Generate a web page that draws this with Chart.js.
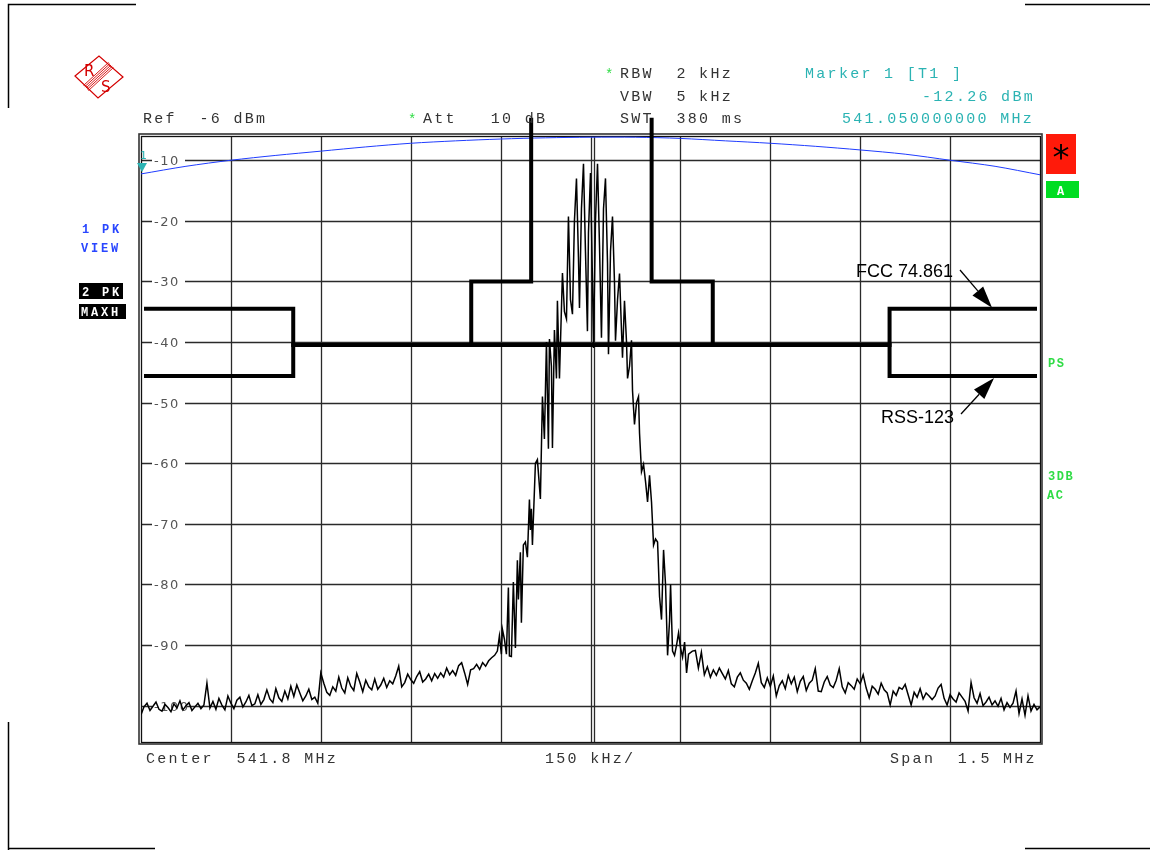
<!DOCTYPE html>
<html>
<head>
<meta charset="utf-8">
<title>Spectrum - FCC 74.861 / RSS-123 mask</title>
<script src="https://cdn.jsdelivr.net/npm/chart.js@4.4.1/dist/chart.umd.min.js"></script>
<style>
  html, body { margin: 0; padding: 0; background: #fff; }
  #wrap { width: 1150px; height: 850px; position: relative; }
</style>
</head>
<body>
<div id="wrap"><canvas id="spectrum"></canvas></div>
<script>
// frequency axis (MHz) and level axis (dBm)
const freqMin = 541.05;
const freqMax = 542.55;
const refLevel = -6;
const bottomLevel = -106;
const xGrid = [541.2, 541.35, 541.5, 541.65, 541.8, 541.95, 542.1, 542.25, 542.4];
const yGrid = [-10, -20, -30, -40, -50, -60, -70, -80, -90, -100];

// trace 2 (PK / MAXH) - noise below the carrier, sweep step 5 kHz
const sweepStep = 0.005;
const noiseLowStart = 541.05;
const noiseLow = [
  -101.5, -100.2, -99.6, -100.8, -100.1, -99.4, -100.6, -100.9, -99.8, -100.3,
  -101.0, -99.7, -100.4, -99.2, -100.7, -100.0, -99.5, -100.8, -100.2, -99.6,
  -100.5, -99.9, -96.3, -100.4, -99.3, -100.6, -98.8, -99.9, -100.7, -98.4,
  -99.6, -100.5, -99.1, -98.6, -100.2, -99.4, -98.3, -100.0, -99.7, -98.2,
  -99.8, -99.0, -97.4, -98.9, -99.5, -97.2, -98.7, -99.3, -97.6, -98.9,
  -96.8, -98.5, -96.6, -97.9, -99.2, -98.4, -97.3, -99.0, -98.6, -99.6,
  -94.6, -96.3, -97.8, -98.3, -96.9, -97.6, -95.3, -97.1, -97.9, -95.4,
  -96.8, -97.5, -94.7, -96.1, -97.7, -95.8, -96.9, -97.4, -95.6, -97.3,
  -96.6, -95.5, -97.0, -95.9, -96.4, -95.1, -93.5, -96.9, -96.2, -94.8,
  -95.7, -96.3, -95.2, -94.4, -96.1, -95.6, -94.8, -95.9, -94.7, -95.5,
  -94.6, -95.3, -93.8, -94.9, -94.2, -95.0, -93.4, -92.9, -94.6, -96.5,
  -94.1, -93.9, -93.2, -94.0, -92.9, -93.5, -92.6, -92.1, -91.7
];

// trace 2 - modulated carrier, read point by point
const sigFreq = [
  541.6446, 541.6480, 541.6513, 541.6530, 541.6563, 541.6597, 541.6630, 541.6647,
  541.6680, 541.6713, 541.6747, 541.6780, 541.6797, 541.6830, 541.6847, 541.6880,
  541.6914, 541.6947, 541.6981, 541.6997, 541.7014, 541.7031, 541.7081, 541.7114,
  541.7164, 541.7198, 541.7231, 541.7265, 541.7298, 541.7315, 541.7348, 541.7365,
  541.7398, 541.7432, 541.7448, 541.7482, 541.7532, 541.7565, 541.7599, 541.7632,
  541.7666, 541.7699, 541.7732, 541.7766, 541.7799, 541.7816, 541.7849, 541.7883,
  541.7916, 541.7949, 541.7966, 541.8000, 541.8033, 541.8050, 541.8083, 541.8117,
  541.8150, 541.8183, 541.8217, 541.8250, 541.8284, 541.8300, 541.8334, 541.8367,
  541.8400, 541.8417, 541.8451, 541.8484, 541.8517, 541.8534, 541.8567, 541.8601,
  541.8618, 541.8651, 541.8684, 541.8701, 541.8734, 541.8768, 541.8801, 541.8818,
  541.8851, 541.8885, 541.8918, 541.8952, 541.8985, 541.9018, 541.9052, 541.9085,
  541.9119, 541.9152, 541.9185, 541.9219, 541.9252, 541.9286, 541.9319, 541.9336,
  541.9369, 541.9402, 541.9436, 541.9469, 541.9503, 541.9536, 541.9570, 541.9603,
  541.9636
];
const sigLevel = [
  -91.0, -88.5, -91.5, -87.4, -89.0, -91.5, -80.5, -91.8,
  -91.9, -79.6, -90.5, -76.0, -82.5, -74.7, -86.3, -73.5,
  -73.0, -75.5, -66.0, -71.0, -67.5, -73.5, -60.0, -59.4,
  -65.9, -49.0, -56.0, -40.0, -57.6, -39.5, -44.0, -57.5,
  -38.0, -46.0, -33.2, -46.0, -28.6, -35.0, -36.2, -19.3,
  -33.0, -35.4, -20.0, -13.0, -26.0, -34.4, -18.0, -10.6,
  -25.0, -38.2, -22.0, -12.1, -30.0, -41.0, -20.0, -10.6,
  -24.0, -39.3, -18.0, -13.0, -27.0, -42.0, -25.0, -19.3,
  -30.0, -39.8, -33.0, -28.7, -38.0, -42.6, -33.2, -40.0,
  -46.0, -44.0, -39.7, -48.0, -53.6, -50.0, -49.0, -55.0,
  -61.4, -60.2, -63.0, -66.4, -62.0, -66.4, -73.5, -72.5,
  -73.0, -82.0, -85.8, -74.3, -80.0, -91.7, -86.0, -80.0,
  -91.0, -91.7, -90.0, -88.0, -90.5, -92.0, -89.5, -94.6,
  -91.5
];

// trace 2 - noise above the carrier
const noiseHighStart = 541.97;
const noiseHigh = [
  -91.0, -90.9, -93.8, -91.2, -94.9, -93.6, -95.3, -94.1, -95.0, -93.8,
  -94.7, -95.6, -94.2, -96.4, -96.9, -95.3, -94.6, -95.8, -96.3, -97.3,
  -95.9, -94.6, -93.0, -96.2, -97.0, -95.4, -96.8, -95.1, -98.4, -96.7,
  -95.9, -97.2, -95.0, -96.4, -95.3, -97.7, -96.0, -95.2, -97.5, -96.3,
  -95.8, -93.9, -97.6, -97.7, -96.1, -95.2, -96.6, -97.0, -95.8, -93.9,
  -96.9, -97.9, -96.2, -96.7, -97.3, -95.6, -96.4, -94.9, -97.1, -98.7,
  -96.8, -97.3, -98.1, -96.3, -97.4, -97.9, -99.9, -97.6, -98.3, -97.0,
  -97.3, -96.5, -98.2, -99.9, -97.8, -98.6, -97.2, -98.9, -97.9, -98.4,
  -99.0, -98.4, -97.1, -96.5, -98.8, -99.9, -98.2, -98.9, -99.4, -97.9,
  -98.6, -99.3, -100.9, -96.2, -98.7, -99.6, -98.0, -100.0, -99.4, -98.6,
  -99.9, -99.2, -100.1, -98.8, -100.7, -99.5, -100.3, -99.6, -97.6, -101.3,
  -98.9, -101.6, -98.4, -100.9, -99.8, -100.7, -100.2
];

// trace 1 (PK / VIEW)
const viewFreq = [
  541.05, 541.125, 541.2, 541.275, 541.35, 541.425, 541.5, 541.575, 541.65, 541.725, 541.8,
  541.875, 541.95, 542.025, 542.1, 542.175, 542.25, 542.325, 542.4, 542.475, 542.55
];
const viewLevel = [
  -12.26, -11.0, -10.0, -9.2, -8.5, -7.8, -7.2, -6.8, -6.5, -6.3, -6.2,
  -6.2, -6.4, -6.8, -7.2, -7.7, -8.3, -9.0, -10.0, -11.0, -12.4
];

// limit lines (null breaks the line above the screen)
const fccFreq  = [541.055, 541.304, 541.304, 541.601, 541.601, 541.701, 541.701, 541.8, 541.902, 541.902, 542.004, 542.004, 542.299, 542.299, 542.545];
const fccLevel = [-34.5, -34.5, -40.5, -40.5, -30, -30, -3, null, -3, -30, -30, -40.5, -40.5, -34.5, -34.5];
const rssFreq  = [541.055, 541.304, 541.304, 542.299, 542.299, 542.545];
const rssLevel = [-45.6, -45.6, -40.5, -40.5, -45.6, -45.6];

const markerFreq = 541.05;
const markerLevel = -12.26;
const arrowFreq = 542.47;

const trace2 = [];
noiseLow.forEach((v, i) => trace2.push({ x: noiseLowStart + i * sweepStep, y: v }));
sigFreq.forEach((f, i) => trace2.push({ x: f, y: sigLevel[i] }));
noiseHigh.forEach((v, i) => trace2.push({ x: noiseHighStart + i * sweepStep, y: v }));

const trace1 = viewFreq.map((f, i) => ({ x: f, y: viewLevel[i] }));
const fccLine = fccFreq.map((f, i) => ({ x: f, y: fccLevel[i] }));
const rssLine = rssFreq.map((f, i) => ({ x: f, y: rssLevel[i] }));

const MONO = '"Liberation Mono", "Courier New", monospace';
const TEAL = "#2bb3b3";
const GREEN = "#2fdc45";

function monoText(ctx, str, x, y, color, size, spacing, weight) {
  ctx.font = (weight || "") + " " + (size || 15) + "px " + MONO;
  ctx.letterSpacing = (spacing === undefined ? 2.3 : spacing) + "px";
  ctx.fillStyle = color;
  ctx.textAlign = "left";
  ctx.textBaseline = "alphabetic";
  ctx.fillText(str, x, y);
  ctx.letterSpacing = "0px";
}

function arrow(ctx, x1, y1, x2, y2) {
  const a = Math.atan2(y2 - y1, x2 - x1);
  const L = 22, W = 7;
  const bx = x2 - L * Math.cos(a), by = y2 - L * Math.sin(a);
  ctx.beginPath();
  ctx.moveTo(x1, y1);
  ctx.lineTo(bx, by);
  ctx.stroke();
  ctx.beginPath();
  ctx.moveTo(x2, y2);
  ctx.lineTo(bx + W * Math.sin(a), by - W * Math.cos(a));
  ctx.lineTo(bx - W * Math.sin(a), by + W * Math.cos(a));
  ctx.closePath();
  ctx.fill();
}

const screenPlugin = {
  id: "screen",
  beforeDatasetsDraw(chart) {
    const { ctx, chartArea: a, scales } = chart;
    const xs = scales.x, ys = scales.y;
    ctx.save();
    // grid
    ctx.strokeStyle = "#2a2a2a";
    ctx.lineWidth = 1.3;
    xGrid.forEach((f) => {
      const px = Math.round(xs.getPixelForValue(f)) + 0.5;
      ctx.beginPath();
      ctx.moveTo(px, a.top);
      ctx.lineTo(px, a.bottom);
      ctx.stroke();
    });
    // center frequency line is doubled
    const cx = Math.round(xs.getPixelForValue(541.8)) + 3.5;
    ctx.beginPath();
    ctx.moveTo(cx, a.top);
    ctx.lineTo(cx, a.bottom);
    ctx.stroke();
    yGrid.forEach((v) => {
      const py = Math.round(ys.getPixelForValue(v)) + 0.5;
      ctx.beginPath();
      ctx.moveTo(a.left, py);
      ctx.lineTo(a.right, py);
      ctx.stroke();
      // level label sits inside the screen on a white patch
      ctx.fillStyle = "#fff";
      ctx.fillRect(a.left + 11, py - 7, 33, 14);
      ctx.font = '13px "DejaVu Sans", sans-serif';
      ctx.letterSpacing = "1.5px";
      ctx.fillStyle = "#555";
      ctx.textBaseline = "middle";
      ctx.textAlign = "left";
      ctx.fillText(String(v), a.left + 13, py + 1);
      ctx.letterSpacing = "0px";
    });
    // double frame
    ctx.strokeStyle = "#111";
    ctx.lineWidth = 1.3;
    ctx.strokeRect(a.left + 0.5, a.top + 0.5, a.right - a.left, a.bottom - a.top);
    ctx.lineWidth = 1.6;
    ctx.strokeStyle = "#333";
    ctx.strokeRect(a.left - 2, a.top - 2, a.right - a.left + 4, a.bottom - a.top + 4);
    ctx.restore();
  },
  afterDraw(chart) {
    const { ctx, chartArea: a, scales } = chart;
    const xs = scales.x, ys = scales.y;
    ctx.save();

    // corner brackets
    ctx.strokeStyle = "#000";
    ctx.lineWidth = 1.5;
    ctx.beginPath();
    ctx.moveTo(8.5, 108); ctx.lineTo(8.5, 4.5); ctx.lineTo(136, 4.5);
    ctx.moveTo(1025, 4.5); ctx.lineTo(1150, 4.5);
    ctx.moveTo(8.5, 722); ctx.lineTo(8.5, 850);
    ctx.moveTo(8.5, 848.5); ctx.lineTo(155, 848.5);
    ctx.moveTo(1025, 848.5); ctx.lineTo(1150, 848.5);
    ctx.stroke();

    // R&S logo
    ctx.strokeStyle = "#d40000";
    ctx.fillStyle = "#d40000";
    ctx.lineWidth = 1.2;
    ctx.beginPath();
    ctx.moveTo(75, 76); ctx.lineTo(99, 56); ctx.lineTo(123, 77); ctx.lineTo(98, 98); ctx.closePath();
    ctx.stroke();
    ctx.lineWidth = 0.9;
    for (let k = -2; k <= 2; k++) {
      ctx.beginPath();
      ctx.moveTo(86 + k * 1.2, 88 + k * 1.3);
      ctx.lineTo(111 + k * 1.2, 65 + k * 1.3);
      ctx.stroke();
    }
    ctx.font = '15px "DejaVu Sans", sans-serif';
    ctx.textBaseline = "alphabetic";
    ctx.textAlign = "left";
    ctx.fillText("R", 84, 76);
    ctx.fillText("S", 101, 92);

    // header
    monoText(ctx, "*", 605, 79, GREEN, 14, 0);
    monoText(ctx, "RBW  2 kHz", 620, 78, "#333");
    monoText(ctx, "VBW  5 kHz", 620, 101, "#333");
    monoText(ctx, "SWT  380 ms", 620, 123, "#333");
    monoText(ctx, "Ref  -6 dBm", 143, 123, "#333");
    monoText(ctx, "*", 408, 124, GREEN, 14, 0);
    monoText(ctx, "Att   10 dB", 423, 123, "#333");
    monoText(ctx, "Marker 1 [T1 ]", 805, 78, TEAL);
    monoText(ctx, "-12.26 dBm", 922, 101, TEAL);
    monoText(ctx, "541.050000000 MHz", 842, 123, TEAL);

    // footer
    monoText(ctx, "Center  541.8 MHz", 146, 763, "#333");
    monoText(ctx, "150 kHz/", 545, 763, "#333");
    monoText(ctx, "Span  1.5 MHz", 890, 763, "#333");

    // trace labels on the left
    monoText(ctx, "1 PK", 82, 233, "#2946ff", 12, 2.8, "bold");
    monoText(ctx, "VIEW", 81, 252, "#2946ff", 12, 2.8, "bold");
    ctx.fillStyle = "#000";
    ctx.fillRect(79, 283, 44, 16);
    ctx.fillRect(79, 304, 47, 15);
    monoText(ctx, "2 PK", 82, 296, "#fff", 12, 2.8, "bold");
    monoText(ctx, "MAXH", 81, 316, "#fff", 12, 2.8, "bold");

    // status fields on the right
    ctx.fillStyle = "#ff1a0a";
    ctx.fillRect(1046, 134, 30, 40);
    ctx.fillStyle = "#00dd22";
    ctx.fillRect(1046, 181, 33, 17);
    ctx.fillStyle = "#000";
    ctx.font = '34px "DejaVu Sans", sans-serif';
    ctx.textAlign = "center";
    ctx.textBaseline = "middle";
    ctx.fillText("*", 1061, 160);
    monoText(ctx, "A", 1057, 195, "#fff", 12, 0, "bold");
    monoText(ctx, "PS", 1048, 367, GREEN, 12, 1.5, "bold");
    monoText(ctx, "3DB", 1048, 480, GREEN, 12, 1.5, "bold");
    monoText(ctx, "AC", 1047, 499, GREEN, 12, 1.5, "bold");

    // marker 1
    const mx = xs.getPixelForValue(markerFreq);
    const my = ys.getPixelForValue(markerLevel);
    ctx.fillStyle = TEAL;
    ctx.beginPath();
    ctx.moveTo(mx - 4, my - 11); ctx.lineTo(mx + 6, my - 11); ctx.lineTo(mx + 1, my - 2); ctx.closePath();
    ctx.fill();
    ctx.font = '11px "DejaVu Sans Mono", monospace';
    ctx.textAlign = "left";
    ctx.textBaseline = "alphabetic";
    ctx.fillText("1", mx - 1, my - 15);

    // limit line labels
    ctx.fillStyle = "#000";
    ctx.strokeStyle = "#000";
    ctx.lineWidth = 1.3;
    ctx.font = '18px "Liberation Sans", Arial, sans-serif';
    ctx.textAlign = "left";
    ctx.textBaseline = "alphabetic";
    ctx.fillText("FCC 74.861", 856, 277);
    ctx.fillText("RSS-123", 881, 423);
    const ax = xs.getPixelForValue(arrowFreq);
    arrow(ctx, 960, 270, ax, ys.getPixelForValue(fccLevel[fccLevel.length - 1]) - 1);
    arrow(ctx, 961, 414, ax + 2, ys.getPixelForValue(rssLevel[rssLevel.length - 1]) + 2);

    ctx.restore();
  }
};

new Chart(document.getElementById("spectrum"), {
  type: "line",
  data: {
    datasets: [
      {
        label: "FCC 74.861",
        data: fccLine,
        borderColor: "#000",
        borderWidth: 4,
        borderJoinStyle: "miter",
        borderCapStyle: "butt",
        pointRadius: 0,
        spanGaps: false,
        clip: false,
        order: 0,
      },
      {
        label: "RSS-123",
        data: rssLine,
        borderColor: "#000",
        borderWidth: 4,
        borderJoinStyle: "miter",
        borderCapStyle: "butt",
        pointRadius: 0,
        clip: false,
        order: 1,
      },
      {
        label: "2 PK MAXH",
        data: trace2,
        borderColor: "#000",
        borderWidth: 1.5,
        pointRadius: 0,
        tension: 0,
        order: 2,
      },
      {
        label: "1 PK VIEW",
        data: trace1,
        borderColor: "#1f3cff",
        borderWidth: 1,
        pointRadius: 0,
        tension: 0.3,
        order: 3,
      },
    ],
  },
  options: {
    responsive: true,
    maintainAspectRatio: false,
    animation: false,
    events: [],
    layout: { padding: { left: 141, right: 110, top: 136, bottom: 108 } },
    plugins: {
      legend: { display: false },
      tooltip: { enabled: false },
    },
    scales: {
      x: { type: "linear", min: freqMin, max: freqMax, display: false },
      y: { type: "linear", min: bottomLevel, max: refLevel, display: false },
    },
  },
  plugins: [screenPlugin],
});
</script>
</body>
</html>
